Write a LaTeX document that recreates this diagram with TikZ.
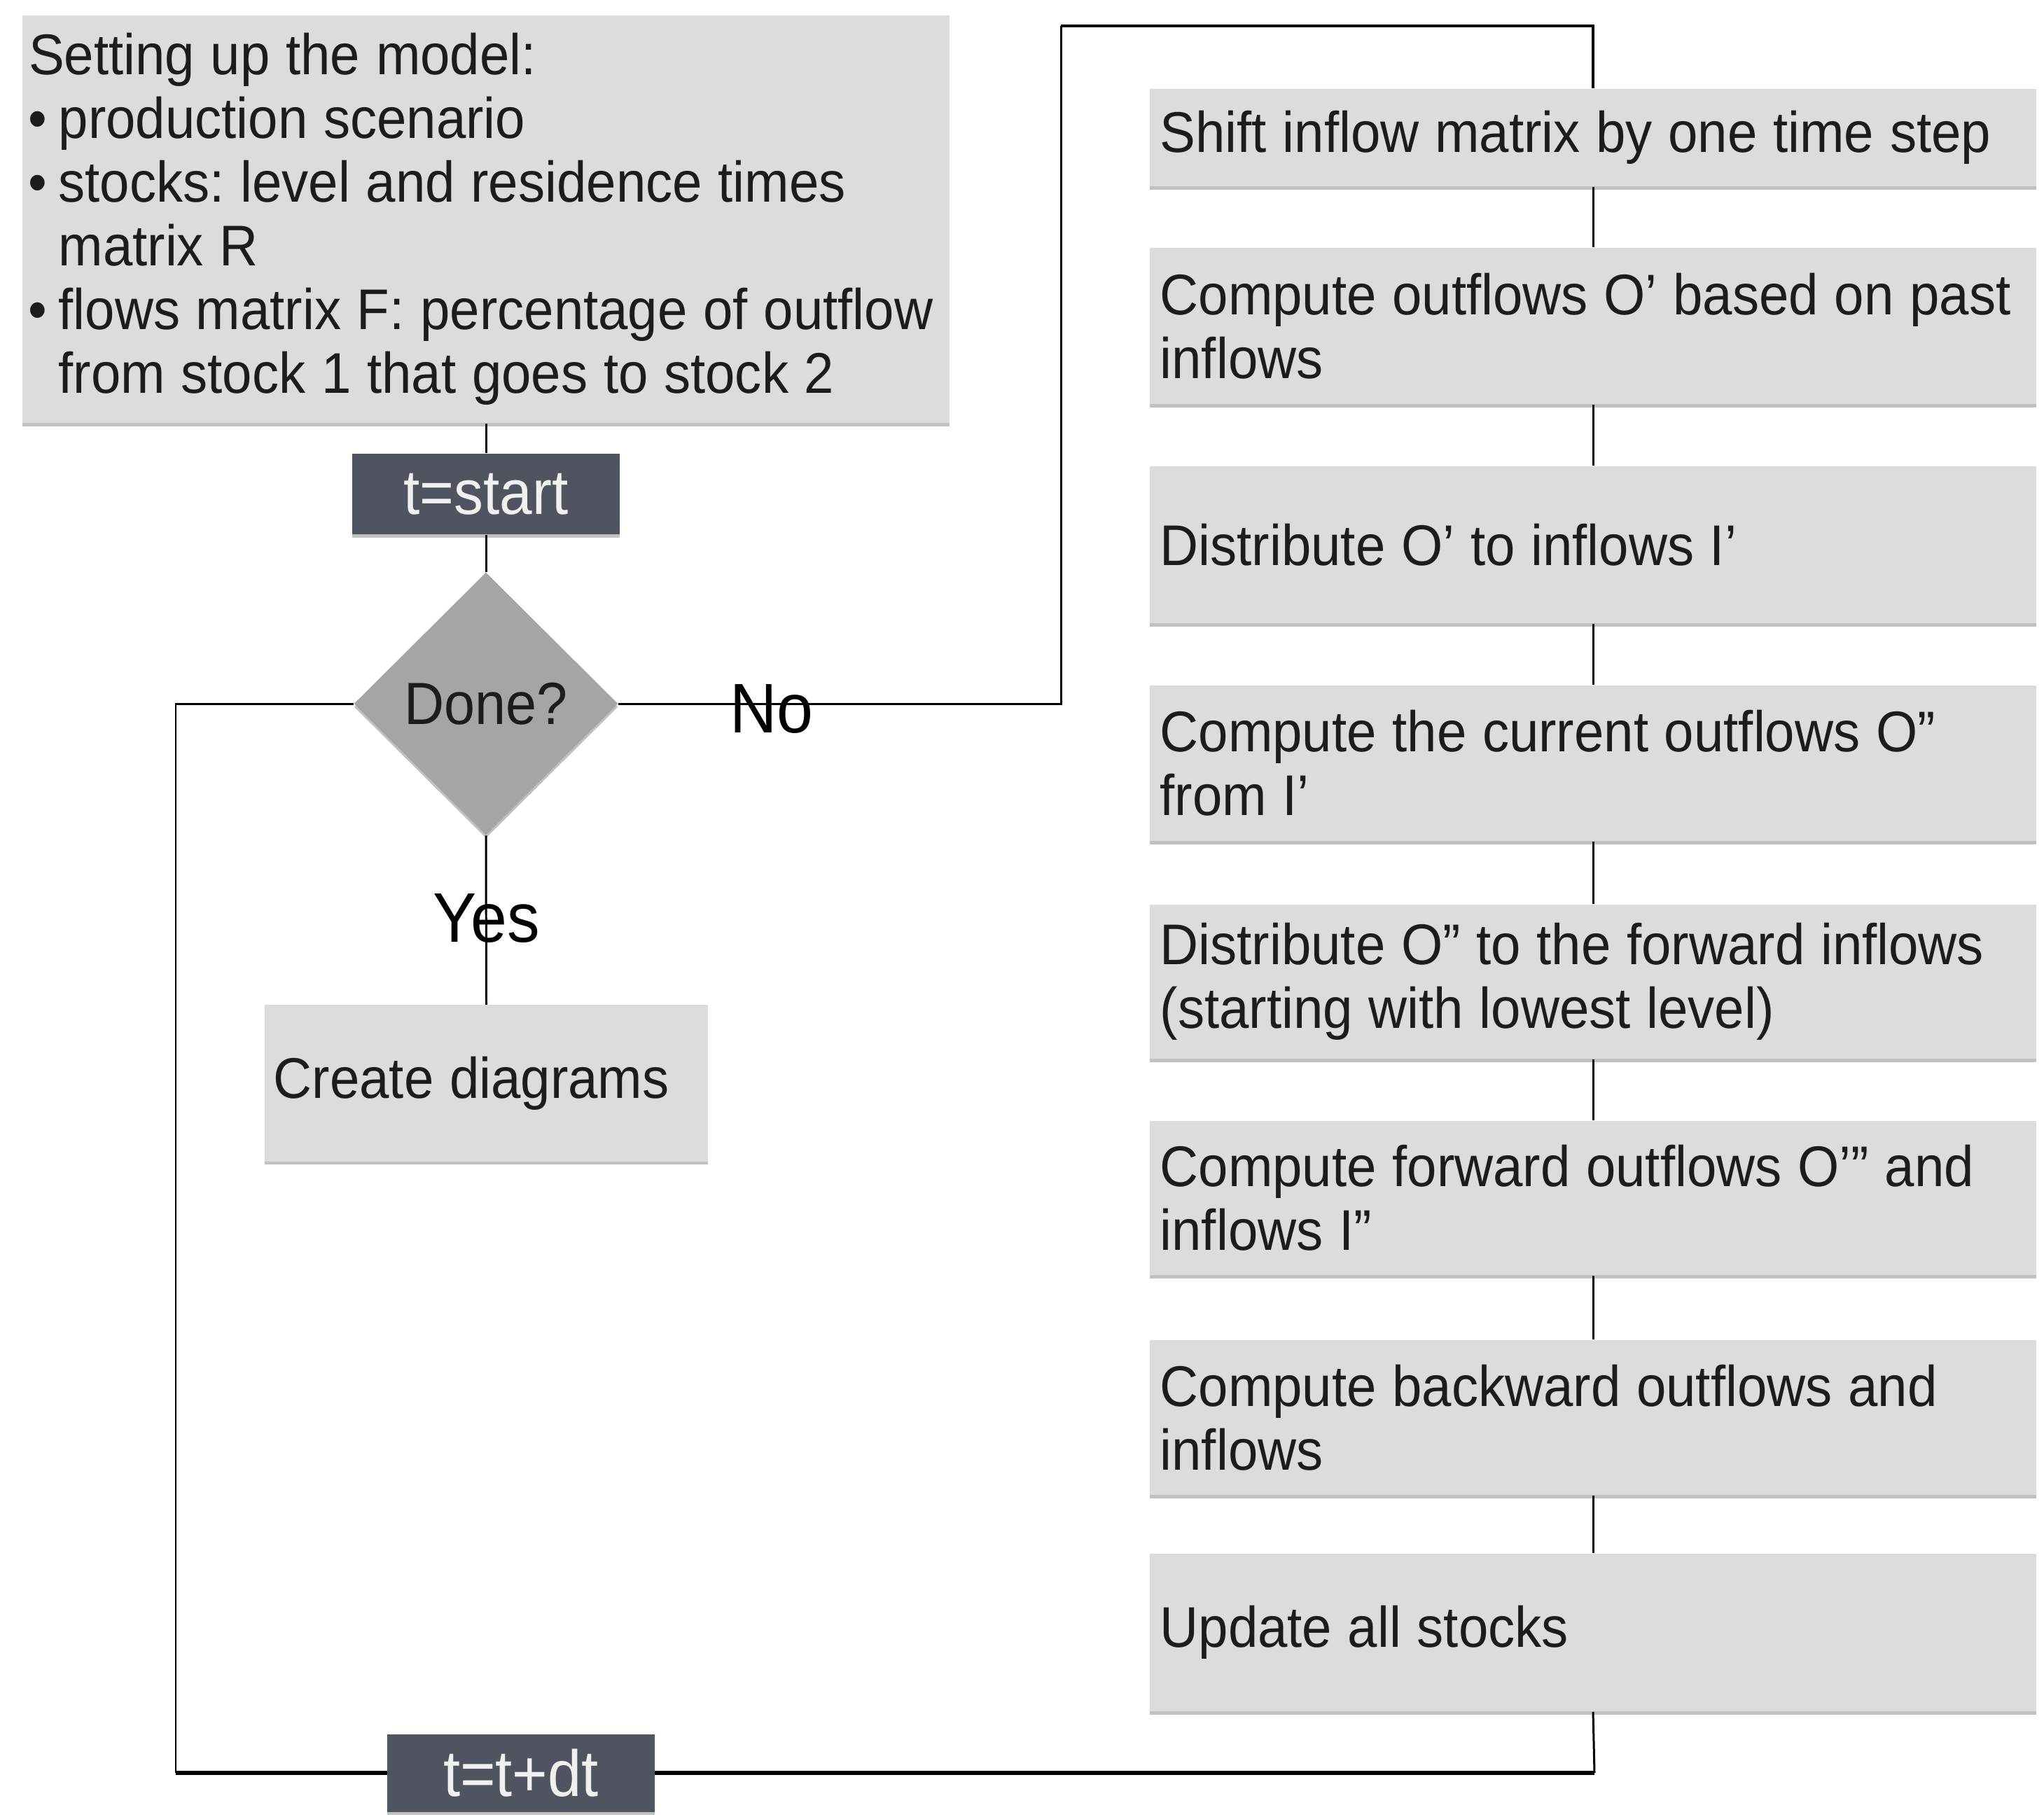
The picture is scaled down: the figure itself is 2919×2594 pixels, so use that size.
\documentclass[tikz,border=0pt]{standalone}
\usepackage{fontspec}
\setmainfont{Liberation Sans}[FakeStretch=0.93]
\usetikzlibrary{shapes.geometric,shadows}
\definecolor{boxgray}{HTML}{DCDCDC}
\definecolor{diagray}{HTML}{A5A6A4}
\definecolor{darkbox}{HTML}{4F5460}
\definecolor{txt}{HTML}{1C1C1C}
\newcommand{\bul}{\makebox[0.465cm][l]{\hspace{0.03cm}•}}
\newcommand{\ind}{\hspace*{0.465cm}}
\newcommand{\tightsp}{\spaceskip=0.277em plus 0.02em minus 0.02em\relax}
\frenchspacing
\hyphenpenalty=10000
\begin{document}
\begin{tikzpicture}[x=0.01cm,y=-0.01cm,
  shd/.style={drop shadow={shadow xshift=0pt,shadow yshift=-1.3pt,opacity=0.35,fill=black!70}},
  box/.style={fill=boxgray,draw=none,shd,text=txt,font=\fontsize{23.3pt}{25.9pt}\selectfont\frenchspacing\tightsp},
  rbox/.style={box,text width=12.36cm,inner xsep=0.15cm,inner ysep=0pt,align=flush left},
  dbox/.style={fill=darkbox,draw=none,shd,text=white!94!black,inner sep=0pt},
  lbl/.style={text=black,font=\fontsize{28.5pt}{30pt}\selectfont,inner sep=0pt},
  conn/.style={draw=black,line width=0.85pt},
  thickconn/.style={draw=black,line width=1.5pt}]
\useasboundingbox (0,0) rectangle (2919,2594);

% left column
\node[box,text width=13.13cm,inner xsep=0.05cm,inner ysep=0pt,minimum height=5.82cm,align=flush left] (setup) at (694,313)
 {\mbox{\hspace*{0.04cm}Setting up the model:}\\
  \mbox{\bul production scenario}\\
  \mbox{\bul stocks: level and residence times}\\
  \mbox{\ind matrix R}\\
  \mbox{\bul flows matrix F: percentage of outflow}\\
  \mbox{\ind from stock 1 that goes to stock 2}};

\node[dbox,minimum width=3.81cm,minimum height=1.15cm,font=\fontsize{25.6pt}{28pt}\selectfont] (start) at (694,705.5) {t=start};

\node[diamond,fill=diagray,draw=none,shd,minimum width=3.77cm,minimum height=3.75cm,inner sep=0pt,text=txt,font=\fontsize{24.2pt}{27pt}\selectfont] (done) at (694,1005) {Done?};

\node[box,text width=6.07cm,inner xsep=0.13cm,inner ysep=0pt,minimum height=2.23cm,align=flush left] (diag) at (694.5,1547) {Create diagrams};

\node[dbox,minimum width=3.81cm,minimum height=1.11cm,font=\fontsize{26.5pt}{28pt}\selectfont] (tdt) at (744,2532) {t=t+dt};

% right column
\node[rbox,minimum height=1.39cm] (r1) at (2275,196.5) {Shift inflow matrix by one time step};
\node[rbox,minimum height=2.23cm] (r2) at (2275,465.5) {\mbox{Compute outflows O{\char"27} based on past}\\inflows};
\node[rbox,minimum height=2.24cm] (r3) at (2275,778) {Distribute O’ to inflows I’};
\node[rbox,minimum height=2.22cm] (r4) at (2275,1090) {Compute the current outflows O”\\from I’};
\node[rbox,minimum height=2.20cm] (r5) at (2275,1402) {\mbox{Distribute O” to the forward inflows}\\(starting with lowest level)};
\node[rbox,minimum height=2.20cm] (r6) at (2275,1711) {Compute forward outflows O’” and\\inflows I”};
\node[rbox,minimum height=2.21cm] (r7) at (2275,2024.5) {Compute backward outflows and\\inflows};
\node[rbox,minimum height=2.25cm] (r8) at (2275,2331.5) {Update all stocks};

% helper corners
\coordinate (ntop) at (1515,37);
\coordinate (lcorner) at (251,2532);
\coordinate (bcorner) at (2277,2532);

% connectors
\draw[conn] (setup.south) -- (start.north);
\draw[conn] (start.south) -- (done.north);
\draw[conn] (done.south) -- (diag.north);
\draw[conn] (done.east) -| (ntop);
\draw[conn,line width=1.1pt] (ntop) -| (r1.north);
\draw[conn] (r1.south) -- (r2.north);
\draw[conn] (r2.south) -- (r3.north);
\draw[conn] (r3.south) -- (r4.north);
\draw[conn] (r4.south) -- (r5.north);
\draw[conn] (r5.south) -- (r6.north);
\draw[conn] (r6.south) -- (r7.north);
\draw[conn] (r7.south) -- (r8.north);
\draw[conn] (r8.south) -- (bcorner);
\draw[thickconn] (bcorner) -- (tdt.east);
\draw[thickconn] (tdt.west) -- (lcorner);
\draw[conn] (lcorner) |- (done.west);

% labels
\node[lbl] (no) at (1102,1012) {No};
\node[lbl] (yes) at (695,1311) {Yes};
\end{tikzpicture}
\end{document}
